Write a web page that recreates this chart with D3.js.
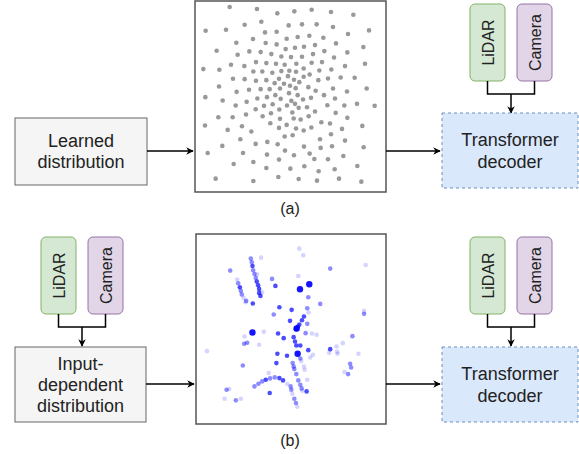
<!DOCTYPE html>
<html>
<head>
<meta charset="utf-8">
<script src="https://cdn.jsdelivr.net/npm/d3@7"></script>
<style>
  body { margin: 0; background: #fff; }
  svg { font-family: "Liberation Sans", Arial, sans-serif; }
</style>
</head>
<body>
<svg id="canvas" width="579" height="454"></svg>
<script>
// learned query points (reference units)
const learnedPts = [
  [118,22],[200,28],[261,41],[312,35],[364,30],[422,37],[489,45],
  [46,93],[107,90],[163,75],[213,66],[295,77],[335,74],[379,74],[428,82],[536,92],[473,103],
  [224,98],[259,96],[138,129],[188,118],[226,130],[259,134],[289,117],[322,112],[357,108],[399,114],[437,131],[519,142],
  [79,153],[142,165],[177,155],[211,157],[243,163],[273,170],[286,148],[314,144],[341,141],[374,136],[368,163],[402,154],[302,172],[335,171],[471,158],[431,173],
  [39,208],[87,210],[122,195],[162,199],[197,187],[228,190],[189,215],[216,215],[246,219],[257,192],[283,195],[273,214],[297,213],[318,192],[317,216],[340,206],[364,189],[395,187],[387,212],[423,209],[464,199],[524,192],
  [128,237],[163,238],[197,243],[228,241],[253,250],[266,237],[293,229],[311,240],[340,231],[358,224],[384,241],[413,236],[451,233],[493,234],
  [86,260],[139,276],[176,270],[211,268],[238,268],[269,266],[281,252],[299,258],[327,247],[316,265],[354,262],[376,273],[428,266],[470,275],[529,266],
  [45,292],[97,302],[136,317],[169,306],[201,296],[230,292],[255,286],[271,297],[296,280],[303,303],[314,312],[322,286],[338,299],[362,294],[401,286],[434,296],[500,312],[553,318],[462,317],
  [84,352],[127,352],[167,344],[196,328],[221,318],[247,313],[267,329],[290,317],[306,338],[325,324],[350,322],[374,335],[411,316],[436,339],[471,354],
  [44,377],[112,390],[155,379],[183,395],[217,349],[242,340],[269,357],[240,370],[266,384],[289,375],[310,356],[331,359],[355,349],[393,367],[419,371],[455,387],[516,378],
  [150,418],[196,432],[231,426],[262,433],[283,410],[307,406],[317,386],[340,392],[363,383],[389,418],[422,403],[425,439],[464,422],[520,442],
  [96,438],[52,459],[158,459],[230,464],[284,452],[311,466],[341,440],[358,461],[391,444],[459,468],
  [130,492],[189,486],[266,479],[228,504],[300,506],[342,499],[372,477],[413,478],[433,508],[501,498],
  [76,536],[189,543],[264,531],[325,537],[380,542],[446,536],[513,545],[385,514]
];

// input-dependent query points of panel (b): x, y, strength (1 faint .. 4 strong/large)
const inputPts = [
  [167,86,2],[170,97,2],[172,108,3],[174,121,2],[178,132,2],[182,144,2],[185,155,3],[189,166,3],[192,177,3],[192,189,3],[196,198,3],[201,187,1],[186,133,1],
  [126,149,1],[129,160,2],[134,172,3],[137,183,2],[140,194,2],[145,204,1],[153,213,2],[151,217,1],
  [105,122,2],[198,83,1],[231,147,2],[241,168,3],[173,221,3],
  [313,56,1],[325,76,1],[310,138,1],[406,116,2],[513,105,1],
  [343,163,4],[315,178,4],[340,202,2],[376,222,2],[508,243,1],[508,252,2],
  [253,232,3],[290,240,3],[236,254,2],[337,235,2],[341,248,1],[327,260,3],[321,271,3],[285,273,3],[337,282,2],[313,284,3],[309,290,3],[305,296,4],[303,298,3],
  [172,308,4],[206,306,1],[249,311,3],[266,325,3],[296,322,3],[332,310,2],[351,311,1],[365,315,1],[148,320,1],[156,339,2],[147,342,2],[192,345,1],
  [300,335,3],[304,347,3],[316,347,3],[340,361,3],[308,372,4],[276,378,3],[247,372,3],[316,386,2],[319,394,1],[354,375,1],[346,383,1],
  [406,358,3],[425,350,1],[444,340,1],[473,319,2],[403,369,1],[427,366,1],[428,372,1],[491,372,1],
  [35,364,1],[244,400,3],[143,407,2],[293,400,2],[296,410,2],[298,418,2],[327,410,1],[329,420,1],[304,433,2],[466,402,2],[469,413,2],[449,427,1],[460,433,2],
  [178,470,2],[190,462,2],[201,455,2],[212,450,3],[225,446,2],[239,443,2],[253,445,3],[264,452,3],[277,463,1],[287,470,2],[289,480,2],[292,492,1],
  [310,452,2],[316,465,2],[320,476,2],[322,483,1],[335,485,3],[337,450,1],
  [224,490,3],[298,507,2],[303,520,2],[307,531,1],[94,480,2],[102,478,1],[88,507,1],[122,512,2],[137,507,1],[221,430,1]
];

const panelLabels = ['(a)', '(b)'];
const sensorNames = ['LiDAR', 'Camera'];
const distLines = [['Learned', 'distribution'], ['Input-', 'dependent', 'distribution']];
const decoderLines = ['Transformer', 'decoder'];

const svg = d3.select('#canvas');
const defs = svg.append('defs');
defs.append('marker')
  .attr('id', 'arrow')
  .attr('viewBox', '0 0 10 10')
  .attr('refX', 9).attr('refY', 5)
  .attr('markerWidth', 5).attr('markerHeight', 5)
  .attr('orient', 'auto')
  .append('path')
  .attr('d', 'M0,0 L10,5 L0,10 L3,5 Z')
  .attr('fill', '#000');

const textColor = '#222';

// multi-line centred label
function label(g, lines, cx, cy, lh) {
  const y0 = cy - (lines.length - 1) * lh / 2;
  g.append('text')
    .attr('text-anchor', 'middle')
    .attr('font-size', 18)
    .attr('fill', textColor)
    .selectAll('tspan')
    .data(lines)
    .enter()
    .append('tspan')
    .attr('x', cx)
    .attr('y', (d, i) => y0 + i * lh)
    .attr('dy', '0.35em')
    .text((d) => d);
}

function arrow(x1, y1, x2, y2) {
  svg.append('line')
    .attr('x1', x1).attr('y1', y1).attr('x2', x2).attr('y2', y2)
    .attr('stroke', '#000').attr('stroke-width', 1.5)
    .attr('marker-end', 'url(#arrow)');
}

// LiDAR + Camera pair with merge arrow pointing down
function sensors(x0, y0) {
  const fills = ['#d5e8d4', '#e1d5e7'];
  const strokes = ['#82b366', '#9673a6'];
  const w = 35, h = 77, gap = 12;
  sensorNames.forEach((name, i) => {
    const x = x0 + i * (w + gap);
    svg.append('rect')
      .attr('x', x).attr('y', y0).attr('width', w).attr('height', h)
      .attr('rx', 5)
      .attr('fill', fills[i]).attr('stroke', strokes[i]).attr('stroke-width', 1);
    svg.append('text')
      .attr('transform', `translate(${x + w / 2 + 1},${y0 + h / 2}) rotate(-90)`)
      .attr('text-anchor', 'middle')
      .attr('dy', '0.35em')
      .attr('font-size', 16)
      .attr('fill', textColor)
      .text(name);
  });
  const c1 = x0 + w / 2, c2 = x0 + w + gap + w / 2, yb = y0 + h + 13;
  svg.append('path')
    .attr('d', `M${c1},${y0 + h} V${yb} H${c2} V${y0 + h}`)
    .attr('fill', 'none').attr('stroke', '#000').attr('stroke-width', 1.5);
  arrow((c1 + c2) / 2, yb, (c1 + c2) / 2, yb + 19);
}

function distBox(x, y, w, h, lines) {
  const g = svg.append('g');
  g.append('rect')
    .attr('x', x).attr('y', y).attr('width', w).attr('height', h)
    .attr('fill', '#f5f5f5').attr('stroke', '#666').attr('stroke-width', 1);
  label(g, lines, x + w / 2, y + h / 2, 21);
}

function decoderBox(y) {
  const g = svg.append('g');
  g.append('rect')
    .attr('x', 442).attr('y', y).attr('width', 136).attr('height', 75)
    .attr('fill', '#dae8fc').attr('stroke', '#6c8ebf').attr('stroke-width', 1)
    .attr('stroke-dasharray', '3,3');
  label(g, decoderLines, 510, y + 37.5, 22);
}

// panel (a): learned distribution
const ax = d3.scaleLinear().domain([14, 587]).range([195, 386]);
const ay = d3.scaleLinear().domain([4, 576]).range([1, 192]);
svg.append('rect')
  .attr('x', 195).attr('y', 1).attr('width', 191).attr('height', 191)
  .attr('fill', '#fff').attr('stroke', '#555').attr('stroke-width', 1.5);
svg.append('g')
  .selectAll('circle')
  .data(learnedPts)
  .enter()
  .append('circle')
  .attr('cx', (d) => ax(d[0]))
  .attr('cy', (d) => ay(d[1]))
  .attr('r', 2.3)
  .attr('fill', '#999');

// panel (b): input-dependent distribution
const bx = d3.scaleLinear().domain([2, 574]).range([196, 386]);
const by = d3.scaleLinear().domain([12, 583]).range([234, 424]);
const alpha = d3.scaleOrdinal().domain([1, 2, 3, 4]).range([0.17, 0.45, 0.7, 0.92]);
svg.append('rect')
  .attr('x', 196).attr('y', 234).attr('width', 190).attr('height', 190)
  .attr('fill', '#fff').attr('stroke', '#555').attr('stroke-width', 1.5);
svg.append('g')
  .selectAll('circle')
  .data(inputPts)
  .enter()
  .append('circle')
  .attr('cx', (d) => bx(d[0]))
  .attr('cy', (d) => by(d[1]))
  .attr('r', (d) => (d[2] === 4 ? 3.2 : 2.3))
  .attr('fill', '#0000ff')
  .attr('fill-opacity', (d) => alpha(d[2]));

// left-hand boxes
distBox(15, 118, 132, 67, distLines[0]);
distBox(15, 347, 131, 75, distLines[1]);
sensors(41, 237);

// right-hand decoder blocks
sensors(470, 4);
decoderBox(113);
sensors(470, 237);
decoderBox(347);

// flow arrows
arrow(147, 151, 193, 151);
arrow(386, 151, 440, 151);
arrow(146, 384, 194, 384);
arrow(386, 384, 440, 384);

// panel captions
svg.selectAll('.cap')
  .data(panelLabels)
  .enter()
  .append('text')
  .attr('class', 'cap')
  .attr('x', 290)
  .attr('y', (d, i) => (i === 0 ? 208 : 440))
  .attr('dy', '0.35em')
  .attr('text-anchor', 'middle')
  .attr('font-size', 16)
  .attr('fill', textColor)
  .text((d) => d);
</script>
</body>
</html>
